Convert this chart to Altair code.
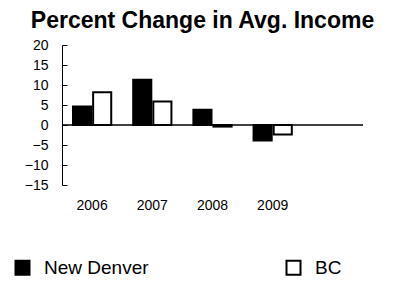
import altair as alt
import pandas as pd

years = ["2006", "2007", "2008", "2009"]
axis_slots = years + [""]
series = ["New Denver", "BC"]
new_denver = [4.6, 11.3, 3.8, -3.9]
bc = [8.2, 5.9, -0.4, -2.4]
y_ticks = [-15, -10, -5, 0, 5, 10, 15, 20]

rows = []
for i, yr in enumerate(years):
    rows.append({"year": yr, "series": "New Denver", "value": new_denver[i]})
    rows.append({"year": yr, "series": "BC", "value": bc[i]})
df = pd.DataFrame(rows)

FONT = "Liberation Sans"
yscale = alt.Scale(domain=[-15, 20], nice=False, zero=False)
xscale = alt.Scale(domain=axis_slots, paddingInner=0.365, paddingOuter=0.183)

bars = alt.Chart(df).mark_bar(stroke="black", strokeWidth=2).encode(
    x=alt.X("year:N", scale=xscale, sort=axis_slots,
            axis=alt.Axis(title=None, domain=False, ticks=False, labelPadding=13,
                          labelFontSize=14, labelAngle=0, labelColor="black", labelFont=FONT)),
    xOffset=alt.XOffset("series:N", sort=series,
                        scale=alt.Scale(domain=series, paddingInner=0.1, paddingOuter=0)),
    y=alt.Y("value:Q", scale=yscale,
            axis=alt.Axis(values=y_ticks, title=None, ticks=False, domainColor="black",
                          domainWidth=1, labelFontSize=14, labelPadding=14, grid=False,
                          labelColor="black", labelFont=FONT)),
    fill=alt.Fill("series:N", sort=series,
                  scale=alt.Scale(domain=series, range=["black", "white"]),
                  legend=alt.Legend(title=None, orient="none", legendX=-49, legendY=213,
                                    direction="horizontal", symbolType="square", symbolSize=196,
                                    symbolStrokeColor="black", symbolStrokeWidth=2,
                                    labelFontSize=19, labelFont=FONT, labelOffset=12,
                                    columnPadding=133, labelLimit=300, labelColor="black")),
)

zero = alt.Chart(pd.DataFrame({"v": [0]})).mark_rule(color="black", strokeWidth=1.5).encode(
    y=alt.Y("v:Q", scale=yscale,
            axis=alt.Axis(orient="right", offset=-301, values=y_ticks, labels=False, domain=False,
                          ticks=True, tickSize=5, tickColor="black", tickWidth=1, title=None, grid=False))
)

chart = alt.layer(bars, zero).resolve_scale(y="shared").resolve_axis(y="independent").properties(
    width=301, height=140,
    autosize=alt.AutoSizeParams(type="none"),
    padding={"left": 54, "top": 37, "right": 22, "bottom": 95},
    title=alt.TitleParams("Percent Change in Avg. Income", fontSize=23, fontWeight="bold",
                          font=FONT, anchor="middle", dx=-10, offset=5, color="black"),
).configure_view(stroke=None)

chart.save("out.html", embed_options={"renderer": "svg", "actions": False})
